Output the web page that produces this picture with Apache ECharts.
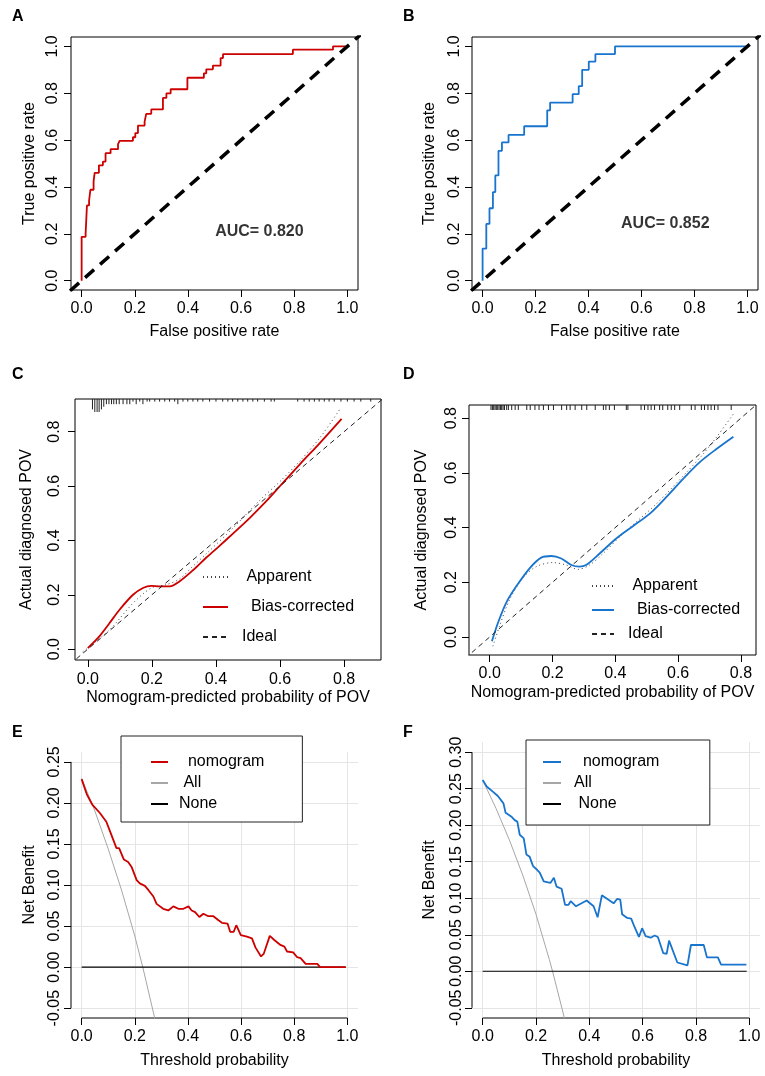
<!DOCTYPE html>
<html>
<head>
<meta charset="utf-8">
<script src="https://cdn.jsdelivr.net/npm/echarts@6/dist/echarts.min.js"></script>
<style>
html, body { margin: 0; padding: 0; background: #fff; }
#main { width: 765px; height: 1076px; }
</style>
</head>
<body>
<div id="main"></div>
<script>
// ROC curves (A, B) - step corners
var fprA = [0, 0, 0.015, 0.02, 0.028, 0.033, 0.045, 0.049, 0.065, 0.08, 0.09, 0.109, 0.137, 0.143, 0.193, 0.202, 0.212, 0.237, 0.243, 0.262, 0.306, 0.319, 0.335, 0.398, 0.46, 0.469, 0.494, 0.523, 0.532, 0.795, 0.946, 1.0];
var tprA = [0, 0.187, 0.201, 0.321, 0.341, 0.388, 0.424, 0.46, 0.492, 0.508, 0.544, 0.561, 0.583, 0.597, 0.612, 0.63, 0.662, 0.679, 0.712, 0.731, 0.78, 0.799, 0.817, 0.866, 0.885, 0.902, 0.918, 0.95, 0.967, 0.986, 1.0, 1.0];
var fprB = [0, 0, 0.014, 0.026, 0.039, 0.048, 0.06, 0.073, 0.098, 0.157, 0.244, 0.255, 0.34, 0.363, 0.376, 0.401, 0.426, 0.5, 1.0];
var tprB = [0, 0.137, 0.242, 0.309, 0.378, 0.449, 0.554, 0.59, 0.622, 0.659, 0.727, 0.76, 0.796, 0.83, 0.9, 0.935, 0.967, 1.0, 1.0];
var aucA = 0.820;
var aucB = 0.852;
var diagEnds = [-0.1, 1.1];

// calibration curves (C, D)
var appXC = [-0.016, 0.068, 0.141, 0.198, 0.245, 0.286, 0.328, 0.37, 0.453, 0.536, 0.6, 0.661, 0.724, 0.786];
var appYC = [-0.01, 0.071, 0.169, 0.225, 0.237, 0.258, 0.305, 0.351, 0.445, 0.547, 0.617, 0.691, 0.777, 0.881];
var biasXC = [0, 0.036, 0.068, 0.099, 0.141, 0.172, 0.198, 0.224, 0.255, 0.286, 0.328, 0.37, 0.411, 0.453, 0.505, 0.557, 0.6, 0.661, 0.724, 0.792];
var biasYC = [0.004, 0.047, 0.096, 0.145, 0.2, 0.225, 0.233, 0.231, 0.231, 0.249, 0.29, 0.337, 0.38, 0.425, 0.482, 0.544, 0.6, 0.679, 0.758, 0.847];
var rugXC = [0.0145, 0.0218, 0.029, 0.0353, 0.0425, 0.0498, 0.058, 0.066, 0.074, 0.081, 0.089, 0.098, 0.11, 0.122, 0.131, 0.141, 0.151, 0.162, 0.172, 0.185, 0.193, 0.209, 0.224, 0.24, 0.255, 0.271, 0.281, 0.297, 0.312, 0.328, 0.343, 0.359, 0.38, 0.4, 0.421, 0.437, 0.452, 0.468, 0.484, 0.499, 0.515, 0.53, 0.551, 0.572, 0.582, 0.655, 0.675, 0.691, 0.707, 0.722, 0.738, 0.753, 0.769, 0.79, 0.81, 0.831, 0.852, 0.883];
var rugNC = [4, 5, 5, 5, 4, 3, 2, 2, 2, 2, 2, 2, 2, 2, 2, 1, 2, 1, 2, 1, 1, 1, 1, 1, 1, 1, 2, 1, 1, 1, 1, 1, 1, 1, 1, 1, 1, 1, 1, 1, 1, 1, 1, 1, 1, 1, 1, 1, 1, 1, 1, 1, 1, 1, 1, 1, 1, 1];

var appXD = [0.01, 0.031, 0.063, 0.105, 0.148, 0.201, 0.244, 0.281, 0.318, 0.361, 0.414, 0.467, 0.52, 0.573, 0.627, 0.68, 0.722, 0.776];
var appYD = [-0.034, 0.039, 0.136, 0.215, 0.257, 0.272, 0.263, 0.247, 0.263, 0.305, 0.366, 0.421, 0.475, 0.536, 0.602, 0.669, 0.73, 0.815];
var biasXD = [0.007, 0.026, 0.052, 0.084, 0.127, 0.164, 0.196, 0.228, 0.26, 0.286, 0.307, 0.35, 0.403, 0.456, 0.51, 0.563, 0.616, 0.669, 0.722, 0.776];
var biasYD = [-0.016, 0.051, 0.124, 0.184, 0.251, 0.29, 0.296, 0.287, 0.263, 0.257, 0.263, 0.305, 0.36, 0.405, 0.451, 0.512, 0.578, 0.639, 0.687, 0.732];
var rugXD = [0.004, 0.0085, 0.0127, 0.017, 0.021, 0.0255, 0.0297, 0.034, 0.038, 0.0425, 0.047, 0.054, 0.0595, 0.07, 0.081, 0.091, 0.118, 0.129, 0.144, 0.157, 0.171, 0.187, 0.203, 0.229, 0.245, 0.256, 0.272, 0.293, 0.309, 0.336, 0.362, 0.37, 0.381, 0.397, 0.435, 0.44, 0.482, 0.493, 0.504, 0.514, 0.525, 0.541, 0.551, 0.567, 0.578, 0.589, 0.605, 0.642, 0.654, 0.674, 0.684, 0.695, 0.705, 0.716, 0.727, 0.769];

// decision curves (E, F)
var thrE = [0, 0.02, 0.04, 0.068, 0.093, 0.112, 0.131, 0.141, 0.159, 0.175, 0.188, 0.207, 0.219, 0.238, 0.251, 0.27, 0.282, 0.307, 0.326, 0.345, 0.364, 0.383, 0.402, 0.414, 0.427, 0.443, 0.458, 0.477, 0.496, 0.515, 0.528, 0.549, 0.559, 0.572, 0.582, 0.599, 0.622, 0.641, 0.654, 0.675, 0.685, 0.708, 0.725, 0.748, 0.763, 0.773, 0.796, 0.811, 0.824, 0.843, 0.887, 0.897, 0.994];
var nbE = [0.229, 0.21, 0.198, 0.188, 0.177, 0.161, 0.145, 0.145, 0.131, 0.128, 0.122, 0.106, 0.102, 0.099, 0.094, 0.086, 0.077, 0.071, 0.069, 0.074, 0.071, 0.071, 0.074, 0.069, 0.067, 0.061, 0.065, 0.062, 0.062, 0.057, 0.054, 0.053, 0.043, 0.043, 0.051, 0.039, 0.037, 0.035, 0.024, 0.013, 0.016, 0.038, 0.033, 0.027, 0.025, 0.019, 0.018, 0.012, 0.011, 0.004, 0.004, 0, 0];
var allXE = [0, 0.05, 0.1, 0.15, 0.2, 0.23, 0.28];
var allYE = [0.23, 0.19, 0.144, 0.094, 0.038, 0, -0.069];
var noneXE = [0, 0.994];

var thrF = [0, 0.015, 0.038, 0.057, 0.078, 0.086, 0.107, 0.12, 0.13, 0.139, 0.154, 0.164, 0.176, 0.189, 0.204, 0.214, 0.229, 0.254, 0.267, 0.277, 0.296, 0.309, 0.322, 0.33, 0.35, 0.39, 0.416, 0.431, 0.447, 0.491, 0.504, 0.516, 0.523, 0.542, 0.557, 0.569, 0.586, 0.598, 0.611, 0.63, 0.645, 0.657, 0.677, 0.69, 0.699, 0.73, 0.768, 0.781, 0.829, 0.841, 0.882, 0.894, 0.989];
var nbF = [0.262, 0.253, 0.246, 0.24, 0.23, 0.217, 0.212, 0.207, 0.205, 0.187, 0.182, 0.16, 0.157, 0.144, 0.139, 0.135, 0.123, 0.121, 0.128, 0.116, 0.113, 0.091, 0.091, 0.096, 0.089, 0.097, 0.089, 0.074, 0.104, 0.093, 0.099, 0.098, 0.078, 0.073, 0.072, 0.061, 0.047, 0.059, 0.048, 0.046, 0.049, 0.047, 0.025, 0.024, 0.042, 0.012, 0.008, 0.036, 0.036, 0.019, 0.019, 0.009, 0.009];
var allXF = [0, 0.05, 0.1, 0.15, 0.2, 0.25, 0.262, 0.31];
var allYF = [0.262, 0.223, 0.18, 0.132, 0.078, 0.016, 0, -0.069];
var noneXF = [0, 0.99];

// tick labels
var ticksRoc = [0, 0.2, 0.4, 0.6, 0.8, 1.0];
var ticksCal = [0, 0.2, 0.4, 0.6, 0.8];
var ticksThr = [0, 0.2, 0.4, 0.6, 0.8, 1.0];
var ticksNbE = [-0.05, 0, 0.05, 0.1, 0.15, 0.2, 0.25];
var ticksNbF = [-0.05, 0, 0.05, 0.1, 0.15, 0.2, 0.25, 0.3];

var RED = '#CD0000', BLUE = '#1874CD', FONT = 'Liberation Sans';

function pairs(xs, ys) {
    return xs.map(function (x, i) { return [x, ys[i]]; });
}
function last(a) { return a[a.length - 1]; }

function xAx(g, min, max, ticks, dec, name, gap, margin) {
    return {
        type: 'value', gridIndex: g, min: min, max: max,
        name: name, nameLocation: 'middle', nameGap: gap,
        nameTextStyle: {fontSize: 16, color: '#000', fontFamily: FONT},
        axisLine: {show: false, onZero: false}, splitLine: {show: false},
        axisTick: {show: true, inside: false, length: 7, customValues: ticks, lineStyle: {color: '#000'}},
        axisLabel: {customValues: ticks, margin: margin, fontSize: 16, color: '#000', fontFamily: FONT,
            formatter: function (v) { return v.toFixed(dec); }}
    };
}
function yAx(g, min, max, ticks, dec, name, gap, margin) {
    var a = xAx(g, min, max, ticks, dec, name, gap, margin);
    a.axisLabel.rotate = 90;
    return a;
}

var myChart = echarts.init(document.getElementById('main'));

var yMaxC = 0.92, yMaxD = 0.848;

function rug(xi, xs, ns, yTop, pxPer) {
    return {
        type: 'custom', xAxisIndex: xi, yAxisIndex: xi, silent: true, clip: false,
        data: xs.map(function (x, i) { return [x, yTop, ns ? ns[i] : 1]; }),
        encode: {x: 0, y: 1},
        renderItem: function (params, api) {
            var p = api.coord([api.value(0), api.value(1)]);
            return {type: 'line', shape: {x1: p[0], y1: p[1], x2: p[0], y2: p[1] + api.value(2) * pxPer},
                style: {stroke: '#222', lineWidth: 1}};
        }
    };
}
function lineS(name, xi, data, color, width, type, extra) {
    var s = {
        name: name, type: 'line', xAxisIndex: xi, yAxisIndex: xi, data: data,
        symbol: 'none', silent: true, z: 3,
        lineStyle: {color: color, width: width, type: type || 'solid'}
    };
    for (var k in extra) { s[k] = extra[k]; }
    return s;
}
function gridLines(xi, xt, yt) {
    return {
        type: 'line', xAxisIndex: xi, yAxisIndex: xi, data: [], silent: true, z: 1,
        markLine: {
            z: 1, silent: true, symbol: ['none', 'none'], label: {show: false}, animation: false,
            lineStyle: {color: '#E5E5E5', type: 'solid', width: 1},
            data: xt.map(function (v) { return {xAxis: v}; }).concat(yt.map(function (v) { return {yAxis: v}; }))
        }
    };
}
function aucLabel(xi, pos, auc) {
    return {
        type: 'scatter', xAxisIndex: xi, yAxisIndex: xi, data: [pos], symbolSize: 0, silent: true,
        label: {show: true, position: 'inside', formatter: 'AUC= ' + auc.toFixed(3),
            fontSize: 16, fontWeight: 'bold', color: '#000', fontFamily: FONT}
    };
}

var boxGrid = {show: true, borderColor: '#000', borderWidth: 1, backgroundColor: 'transparent'};
function grid(l, t, w, h, box) {
    var g = {left: l, top: t, width: w, height: h, outerBoundsMode: 'none'};
    if (box) { for (var k in boxGrid) { g[k] = boxGrid[k]; } }
    return g;
}

var letters = [['A', 12, 9], ['B', 403, 9], ['C', 12, 367], ['D', 403, 367], ['E', 12, 725], ['F', 403, 725]];

function legend(opts, names) {
    var l = {
        orient: 'vertical', selectedMode: false, itemHeight: 14, z: 10,
        itemStyle: {color: 'transparent', borderWidth: 0, opacity: 0},
        textStyle: {fontSize: 16, color: '#000', fontFamily: FONT, padding: [0, 0, 0, 9]},
        data: names.map(function (n) { return {name: n}; })
    };
    for (var k in opts) { l[k] = opts[k]; }
    return l;
}

myChart.setOption({
    backgroundColor: '#fff',
    animation: false,
    textStyle: {fontFamily: FONT},
    title: letters.map(function (t) {
        return {text: t[0], left: t[1], top: t[2], padding: 0,
            textStyle: {fontSize: 16, fontWeight: 'bold', color: '#000', fontFamily: FONT}};
    }),
    grid: [
        grid(71, 37, 287, 253, true),
        grid(472, 37, 286, 253, true),
        grid(75, 399, 306, 261, true),
        grid(469, 405, 287, 250, true),
        grid(71, 752, 287, 266, false),
        grid(472, 742, 288, 276, false)
    ],
    xAxis: [
        xAx(0, -0.04, 1.04, ticksRoc, 1, 'False positive rate', 34, 11),
        xAx(1, -0.04, 1.04, ticksRoc, 1, 'False positive rate', 34, 11),
        xAx(2, -0.04, 0.915, ticksCal, 1, 'Nomogram-predicted probability of POV', 30, 12),
        xAx(3, -0.066, 0.848, ticksCal, 1, 'Nomogram-predicted probability of POV', 30, 11),
        xAx(4, -0.04, 1.04, ticksThr, 1, 'Threshold probability', 35, 11),
        xAx(5, -0.04, 1.04, ticksThr, 1, 'Threshold probability', 35, 11)
    ],
    yAxis: [
        yAx(0, -0.04, 1.04, ticksRoc, 1, 'True positive rate', 33, 10),
        yAx(1, -0.04, 1.04, ticksRoc, 1, 'True positive rate', 34, 9),
        yAx(2, -0.04, yMaxC, ticksCal, 1, 'Actual diagnosed POV', 40, 12),
        yAx(3, -0.066, yMaxD, ticksCal, 1, 'Actual diagnosed POV', 39, 9),
        yAx(4, -0.062, 0.262, ticksNbE, 2, 'Net Benefit', 33, 8),
        yAx(5, -0.064, 0.314, ticksNbF, 2, 'Net Benefit', 34, 7)
    ],
    legend: [
        legend({left: 202, top: 569, padding: 0, itemGap: 14, itemWidth: 25},
            [' Apparent', '  Bias-corrected', 'Ideal']),
        legend({left: 591, top: 578, padding: 0, itemGap: 8, itemWidth: 22},
            [' Apparent ', '  Bias-corrected ', 'Ideal ']),
        legend({left: 121, top: 736, padding: [18, 38, 10, 29], itemGap: 5, itemWidth: 17,
            borderColor: '#222', borderWidth: 1, backgroundColor: '#fff',
            textStyle: {fontSize: 16, color: '#000', fontFamily: FONT, padding: [0, 0, 0, 6]}},
            ['  nomogram', ' All', 'None']),
        legend({left: 526, top: 740, padding: [14, 46, 13, 16], itemGap: 5, itemWidth: 18,
            borderColor: '#222', borderWidth: 1, backgroundColor: '#fff',
            textStyle: {fontSize: 16, color: '#000', fontFamily: FONT, padding: [0, 0, 0, 8]}},
            ['  nomogram ', 'All ', ' None'])
    ],
    series: [
        // A
        lineS('rocA', 0, pairs(fprA, tprA), RED, 1.8, 'solid', {step: 'end'}),
        lineS('diagA', 0, pairs(diagEnds, diagEnds), '#000', 3.5, [12, 8]),
        aucLabel(0, [0.669, 0.208], aucA),
        // B
        lineS('rocB', 1, pairs(fprB, tprB), BLUE, 1.8, 'solid', {step: 'end'}),
        lineS('diagB', 1, pairs(diagEnds, diagEnds), '#000', 3.5, [12, 8]),
        aucLabel(1, [0.69, 0.244], aucB),
        // C
        rug(2, rugXC, rugNC, yMaxC, 2.6),
        lineS(' Apparent', 2, pairs(appXC, appYC), '#444', 1, [1, 3], {smooth: 0.3}),
        lineS('  Bias-corrected', 2, pairs(biasXC, biasYC), RED, 1.8, 'solid', {smooth: 0.3}),
        lineS('Ideal', 2, pairs(diagEnds, diagEnds), '#222', 1, [5, 4]),
        // D
        rug(3, rugXD, null, yMaxD, 5),
        lineS(' Apparent ', 3, pairs(appXD, appYD), '#444', 1, [1, 3], {smooth: 0.3}),
        lineS('  Bias-corrected ', 3, pairs(biasXD, biasYD), BLUE, 1.8, 'solid', {smooth: 0.3}),
        lineS('Ideal ', 3, pairs(diagEnds, diagEnds), '#222', 1, [5, 4]),
        // E
        gridLines(4, ticksThr, ticksNbE),
        lineS('axEx', 4, [[ticksThr[0], -0.062], [last(ticksThr), -0.062]], '#000', 1, 'solid', {clip: false}),
        lineS('axEy', 4, [[-0.04, ticksNbE[0]], [-0.04, last(ticksNbE)]], '#000', 1, 'solid', {clip: false}),
        lineS(' All', 4, pairs(allXE, allYE), '#A6A6A6', 1),
        lineS('None', 4, pairs(noneXE, [0, 0]), '#000', 1.2),
        lineS('  nomogram', 4, pairs(thrE, nbE), RED, 1.8),
        // F
        gridLines(5, ticksThr, ticksNbF),
        lineS('axFx', 5, [[ticksThr[0], -0.064], [last(ticksThr), -0.064]], '#000', 1, 'solid', {clip: false}),
        lineS('axFy', 5, [[-0.04, ticksNbF[0]], [-0.04, last(ticksNbF)]], '#000', 1, 'solid', {clip: false}),
        lineS('All ', 5, pairs(allXF, allYF), '#A6A6A6', 1),
        lineS(' None', 5, pairs(noneXF, [0, 0]), '#000', 1.2),
        lineS('  nomogram ', 5, pairs(thrF, nbF), BLUE, 1.8)
    ]
});
</script>
</body>
</html>
